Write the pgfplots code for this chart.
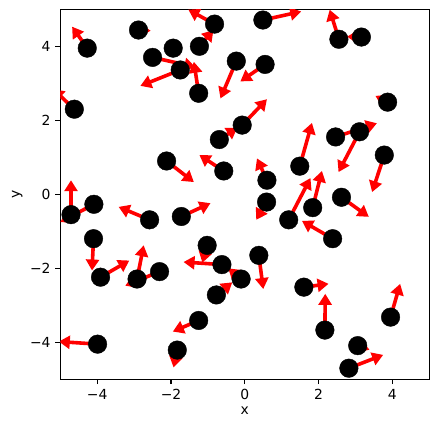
\documentclass[border=0pt]{standalone}
\usepackage{fontspec}
\setmainfont{DejaVu Sans}
\usepackage{pgfplots}
\usepackage{pgfplotstable}
\pgfplotsset{compat=1.18}
\usetikzlibrary{arrows.meta}

\pgfplotstableread{
x y tx ty
-4.62 2.30 -5.20 2.85
-4.27 3.95 -4.68 4.53
-2.88 4.44 -2.55 4.42
-1.94 3.95 -1.75 3.75
-1.23 4.00 -0.85 4.44
-0.82 4.60 -1.53 4.99
-2.50 3.70 -1.34 3.44
-1.75 3.36 -2.83 2.93
-1.25 2.73 -1.38 3.58
-0.23 3.60 -0.66 2.59
0.55 3.51 -0.12 3.05
0.49 4.71 1.53 4.94
2.55 4.19 2.30 4.99
3.16 4.25 2.77 4.26
3.87 2.49 3.54 2.66
-0.07 1.87 0.60 2.57
2.46 1.55 3.58 1.92
3.11 1.69 2.54 0.60
3.78 1.06 3.45 0.06
0.60 0.38 0.33 0.97
0.59 -0.21 0.31 -0.69
1.49 0.76 1.82 1.93
1.19 -0.69 1.78 0.44
1.84 -0.36 2.09 0.63
2.62 -0.08 3.36 -0.61
2.38 -1.20 1.55 -0.72
0.38 -1.65 0.50 -2.56
-0.10 -2.29 -0.45 -2.00
-3.91 -2.24 -3.13 -1.79
-4.10 -1.20 -4.14 -2.06
-2.92 -2.29 -2.74 -1.38
-2.31 -2.09 -3.24 -2.47
-0.62 -1.90 -1.66 -1.83
-1.02 -1.38 -1.15 -1.85
-0.77 -2.72 -0.34 -2.38
-1.25 -3.41 -1.95 -3.71
-1.83 -4.21 -1.93 -4.68
-3.99 -4.05 -5.04 -3.98
-2.12 0.90 -1.38 0.33
-0.57 0.63 -1.23 1.06
-0.69 1.48 -0.20 1.80
-4.71 -0.55 -4.71 0.38
-4.09 -0.27 -5.00 -0.75
-2.58 -0.69 -3.42 -0.34
-1.72 -0.60 -0.93 -0.24
1.60 -2.51 2.27 -2.42
2.17 -3.67 2.18 -2.69
3.95 -3.32 4.21 -2.42
3.06 -4.09 3.38 -4.20
2.82 -4.70 3.75 -4.34
}\data

\begin{document}
\fontsize{13.9}{16}\selectfont
\begin{tikzpicture}
\begin{axis}[
  scale only axis,
  width=369pt, height=370pt,
  xmin=-5, xmax=5, ymin=-5, ymax=5,
  xtick={-4,-2,0,2,4}, ytick={-4,-2,0,2,4},
  xticklabels={−4,−2,0,2,4},
  yticklabels={−4,−2,0,2,4},
  tick align=outside,
  major tick length=4.9pt,
  xtick pos=bottom, ytick pos=left,
  axis line style={line width=1.1pt},
  every tick/.style={line width=1.1pt, black},
  tick label style={font=\fontsize{13.9}{16}\selectfont},
  label style={font=\fontsize{13.9}{16}\selectfont},
  xlabel={x}, ylabel={y},
  xlabel style={yshift=2pt},
  ylabel style={yshift=-2pt},
  /pgf/number format/assume math mode=true,
]
\addplot[red, line width=3.6pt, -{Triangle[length=11pt,width=13pt]},
  quiver={u=\thisrow{tx}-\thisrow{x}, v=\thisrow{ty}-\thisrow{y}}]
  table[x=x, y=y] {\data};
\addplot[only marks, mark=*, mark size=9.3pt, black] table[x=x, y=y] {\data};
\coordinate (bl) at (rel axis cs:0,0);
\coordinate (tr) at (rel axis cs:1,1);
\end{axis}
\pgfresetboundingbox
\path ([shift={(-60.3pt,-53pt)}]bl) rectangle ([shift={(9.7pt,9.3pt)}]tr);
\end{tikzpicture}
\end{document}
